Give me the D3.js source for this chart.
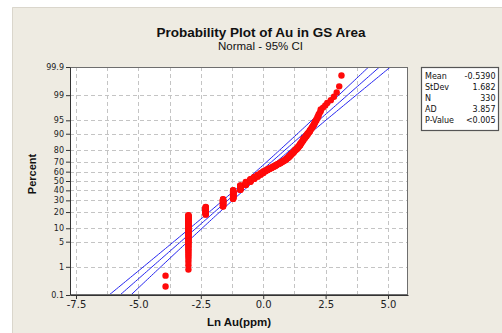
<!DOCTYPE html>
<html>
<head>
<meta charset="utf-8">
<script src="https://cdn.jsdelivr.net/npm/d3@7"></script>
<style>
  body { margin: 0; background: #ffffff; }
  svg { display: block; font-family: "Liberation Sans", Arial, sans-serif; }
</style>
</head>
<body>
<svg id="chart" width="502" height="333"></svg>
<script>
// Distinct ln(Au ppm) sample values, in increasing order
const lnValues = [
  -3.912, -2.996, -2.303, -1.609, -1.204, -0.916, -0.693, -0.511, -0.357, -0.223,
  -0.105, 0.000, 0.095, 0.182, 0.262, 0.336, 0.405, 0.470, 0.531, 0.588,
  0.642, 0.693, 0.742, 0.788, 0.833, 0.875, 0.916, 0.956, 0.993, 1.030,
  1.065, 1.099, 1.131, 1.163, 1.194, 1.224, 1.253, 1.281, 1.335, 1.386,
  1.435, 1.482, 1.526, 1.569, 1.609, 1.668, 1.723, 1.775, 1.825, 1.872,
  1.917, 1.960, 2.001, 2.041, 2.079, 2.128, 2.175, 2.219, 2.262, 2.303,
  2.398, 2.485, 2.565, 2.708, 2.833, 2.944, 3.045, 3.135
];
// Number of samples sharing each value above
const sampleCounts = [
  2, 57, 21, 23, 30, 17, 12, 10, 8, 7,
  6, 6, 4, 4, 3, 3, 3, 3, 3, 2,
  2, 3, 2, 2, 2, 2, 3, 2, 2, 3,
  2, 3, 2, 2, 2, 2, 3, 2, 3, 4,
  3, 4, 3, 3, 4, 3, 3, 3, 2, 3,
  2, 2, 2, 2, 2, 2, 2, 2, 1, 2,
  1, 1, 1, 1, 1, 1, 1, 1
];

const xTickValues = [-7.5, -5.0, -2.5, 0.0, 2.5, 5.0];
const xGridValues = [-7.5, -6.25, -5.0, -3.75, -2.5, -1.25, 0.0, 1.25, 2.5, 3.75, 5.0];
const percentTicks = [0.1, 1, 5, 10, 20, 30, 40, 50, 60, 70, 80, 90, 95, 99, 99.9];
const percentLabels = ["0.1", "1", "5", "10", "20", "30", "40", "50", "60", "70", "80", "90", "95", "99", "99.9"];

const statNames = ["Mean", "StDev", "N", "AD", "P-Value"];
const statTexts = ["-0.5390", "1.682", "330", "3.857", "<0.005"];
const fitMean = -0.5390;
const fitStDev = 1.682;
const fitN = 330;

// Inverse of the standard normal CDF (Acklam's rational approximation)
function probit(p) {
  const a = [-3.969683028665376e+01, 2.209460984245205e+02, -2.759285104469687e+02,
             1.383577518672690e+02, -3.066479806614716e+01, 2.506628277459239e+00];
  const b = [-5.447609879822406e+01, 1.615858368580409e+02, -1.556989798598866e+02,
             6.680131188771972e+01, -1.328068155288572e+01];
  const c = [-7.784894002430293e-03, -3.223964580411365e-01, -2.400758277161838e+00,
             -2.549732539343734e+00, 4.374664141464968e+00, 2.938163982698783e+00];
  const d = [7.784695709041462e-03, 3.224671290700398e-01, 2.445134137142996e+00,
             3.754408661907416e+00];
  const pl = 0.02425, ph = 1 - pl;
  let q, r;
  if (p < pl) {
    q = Math.sqrt(-2 * Math.log(p));
    return (((((c[0]*q+c[1])*q+c[2])*q+c[3])*q+c[4])*q+c[5]) / ((((d[0]*q+d[1])*q+d[2])*q+d[3])*q+1);
  }
  if (p <= ph) {
    q = p - 0.5; r = q * q;
    return (((((a[0]*r+a[1])*r+a[2])*r+a[3])*r+a[4])*r+a[5])*q / (((((b[0]*r+b[1])*r+b[2])*r+b[3])*r+b[4])*r+1);
  }
  q = Math.sqrt(-2 * Math.log(1 - p));
  return -(((((c[0]*q+c[1])*q+c[2])*q+c[3])*q+c[4])*q+c[5]) / ((((d[0]*q+d[1])*q+d[2])*q+d[3])*q+1);
}

// Ordered samples with median-rank plotting positions
const samples = [];
{
  const total = d3.sum(sampleCounts);
  let rank = 0;
  lnValues.forEach((v, gi) => {
    for (let k = 0; k < sampleCounts[gi]; k++) {
      rank += 1;
      samples.push({ value: v, z: probit((rank - 0.3) / (total + 0.4)) });
    }
  });
}

const svg = d3.select("#chart");
const plot = { left: 70, right: 408, top: 67, bottom: 295 };
const tickFont = "'DejaVu Sans', Verdana, sans-serif";

const x = d3.scaleLinear().domain([-7.74, 5.80]).range([plot.left, plot.right]);
const zMin = probit(0.001), zMax = probit(0.999);
const y = d3.scaleLinear().domain([zMin, zMax]).range([plot.bottom, plot.top]);

// Panel background
svg.append("rect").attr("x", 0).attr("y", 0).attr("width", 502).attr("height", 333).attr("fill", "#ffffff");
svg.append("rect").attr("x", 12).attr("y", 7).attr("width", 490).attr("height", 326)
  .attr("fill", "#eeebe2");
svg.append("path").attr("d", "M12.5,333V7.5H502").attr("fill", "none").attr("stroke", "#dad6cc").attr("stroke-width", 1);

// Plot area
svg.append("rect")
  .attr("x", plot.left).attr("y", plot.top)
  .attr("width", plot.right - plot.left).attr("height", plot.bottom - plot.top)
  .attr("fill", "#ffffff");

svg.append("defs").append("clipPath").attr("id", "plotClip")
  .append("rect")
  .attr("x", plot.left).attr("y", plot.top)
  .attr("width", plot.right - plot.left).attr("height", plot.bottom - plot.top);

// Dashed reference grid
const grid = svg.append("g").attr("stroke", "#c4c4c4").attr("stroke-width", 1).attr("stroke-dasharray", "4,3");
grid.selectAll("line.v").data(xGridValues).join("line")
  .attr("class", "v")
  .attr("x1", d => Math.round(x(d)) + 0.5).attr("x2", d => Math.round(x(d)) + 0.5)
  .attr("y1", plot.top).attr("y2", plot.bottom);
grid.selectAll("line.h").data(percentTicks.slice(1, -1)).join("line")
  .attr("class", "h")
  .attr("x1", plot.left).attr("x2", plot.right)
  .attr("y1", d => Math.round(y(probit(d / 100))) + 0.5)
  .attr("y2", d => Math.round(y(probit(d / 100))) + 0.5);

// Fitted normal line with 95% confidence bounds
const zSteps = d3.range(0, 121).map(i => zMin - 0.05 + (zMax - zMin + 0.1) * i / 120);
const halfWidth = z => 1.96 * fitStDev * Math.sqrt(1 / fitN + z * z / (2 * fitN));
const fitCurves = [
  zSteps.map(z => [fitMean + fitStDev * z - halfWidth(z), z]),
  zSteps.map(z => [fitMean + fitStDev * z, z]),
  zSteps.map(z => [fitMean + fitStDev * z + halfWidth(z), z])
];
const lineGen = d3.line().x(d => x(d[0])).y(d => y(d[1]));
svg.append("g").attr("clip-path", "url(#plotClip)")
  .selectAll("path").data(fitCurves).join("path")
  .attr("d", lineGen)
  .attr("fill", "none").attr("stroke", "#2424f0").attr("stroke-width", 1);

// Sample points
svg.append("g").attr("clip-path", "url(#plotClip)")
  .selectAll("circle").data(samples).join("circle")
  .attr("cx", d => x(d.value)).attr("cy", d => y(d.z))
  .attr("r", 3.2).attr("fill", "#ff0a0a");

// Frame
svg.append("rect")
  .attr("x", plot.left + 0.5).attr("y", plot.top + 0.5)
  .attr("width", plot.right - plot.left - 1).attr("height", plot.bottom - plot.top - 1)
  .attr("fill", "none").attr("stroke", "#6e6e6e").attr("stroke-width", 1);

// Axes
const xAxis = d3.axisBottom(x).tickValues(xTickValues).tickFormat(d => d.toFixed(1))
  .tickSize(4).tickSizeOuter(0).tickPadding(2);
const gx = svg.append("g").attr("transform", `translate(0,${plot.bottom})`).call(xAxis);
gx.select(".domain").attr("stroke", "#333");
gx.selectAll(".tick line").attr("stroke", "#333");
gx.selectAll("text").attr("font-size", 10).attr("fill", "#222").attr("font-family", tickFont);

const yAxis = d3.axisLeft(y).tickValues(percentTicks.map(p => probit(p / 100)))
  .tickFormat((d, i) => percentLabels[i]).tickSize(4).tickSizeOuter(0).tickPadding(2);
const gy = svg.append("g").attr("transform", `translate(${plot.left},0)`).call(yAxis);
gy.select(".domain").attr("stroke", "#333");
gy.selectAll(".tick line").attr("stroke", "#333");
gy.selectAll("text").attr("font-size", 8).attr("fill", "#222").attr("font-family", tickFont);

// Titles
svg.append("text").attr("x", 261).attr("y", 37).attr("text-anchor", "middle")
  .attr("font-size", 13.5).attr("font-weight", "bold").attr("fill", "#111")
  .text("Probability Plot of Au in GS Area");
svg.append("text").attr("x", 260.5).attr("y", 50).attr("text-anchor", "middle")
  .attr("font-size", 11.5).attr("fill", "#111")
  .text("Normal - 95% CI");
svg.append("text").attr("x", 239).attr("y", 326).attr("text-anchor", "middle")
  .attr("font-size", 11.5).attr("font-weight", "bold").attr("fill", "#111")
  .text("Ln Au(ppm)");
svg.append("text").attr("transform", "translate(36,174) rotate(-90)").attr("text-anchor", "middle")
  .attr("font-size", 11).attr("font-weight", "bold").attr("fill", "#111")
  .text("Percent");

// Summary statistics box
const box = svg.append("g").attr("font-family", tickFont);
box.append("rect").attr("x", 421.5).attr("y", 67.5).attr("width", 77).attr("height", 63)
  .attr("fill", "#ffffff").attr("stroke", "#555").attr("stroke-width", 1.2);
box.selectAll("text.name").data(statNames).join("text")
  .attr("class", "name")
  .attr("x", 425).attr("y", (d, i) => 78.5 + i * 11)
  .attr("font-size", 8).attr("fill", "#111").text(d => d);
box.selectAll("text.val").data(statTexts).join("text")
  .attr("class", "val")
  .attr("x", 495.5).attr("y", (d, i) => 78.5 + i * 11).attr("text-anchor", "end")
  .attr("font-size", 8).attr("fill", "#111").text(d => d);
</script>
</body>
</html>
